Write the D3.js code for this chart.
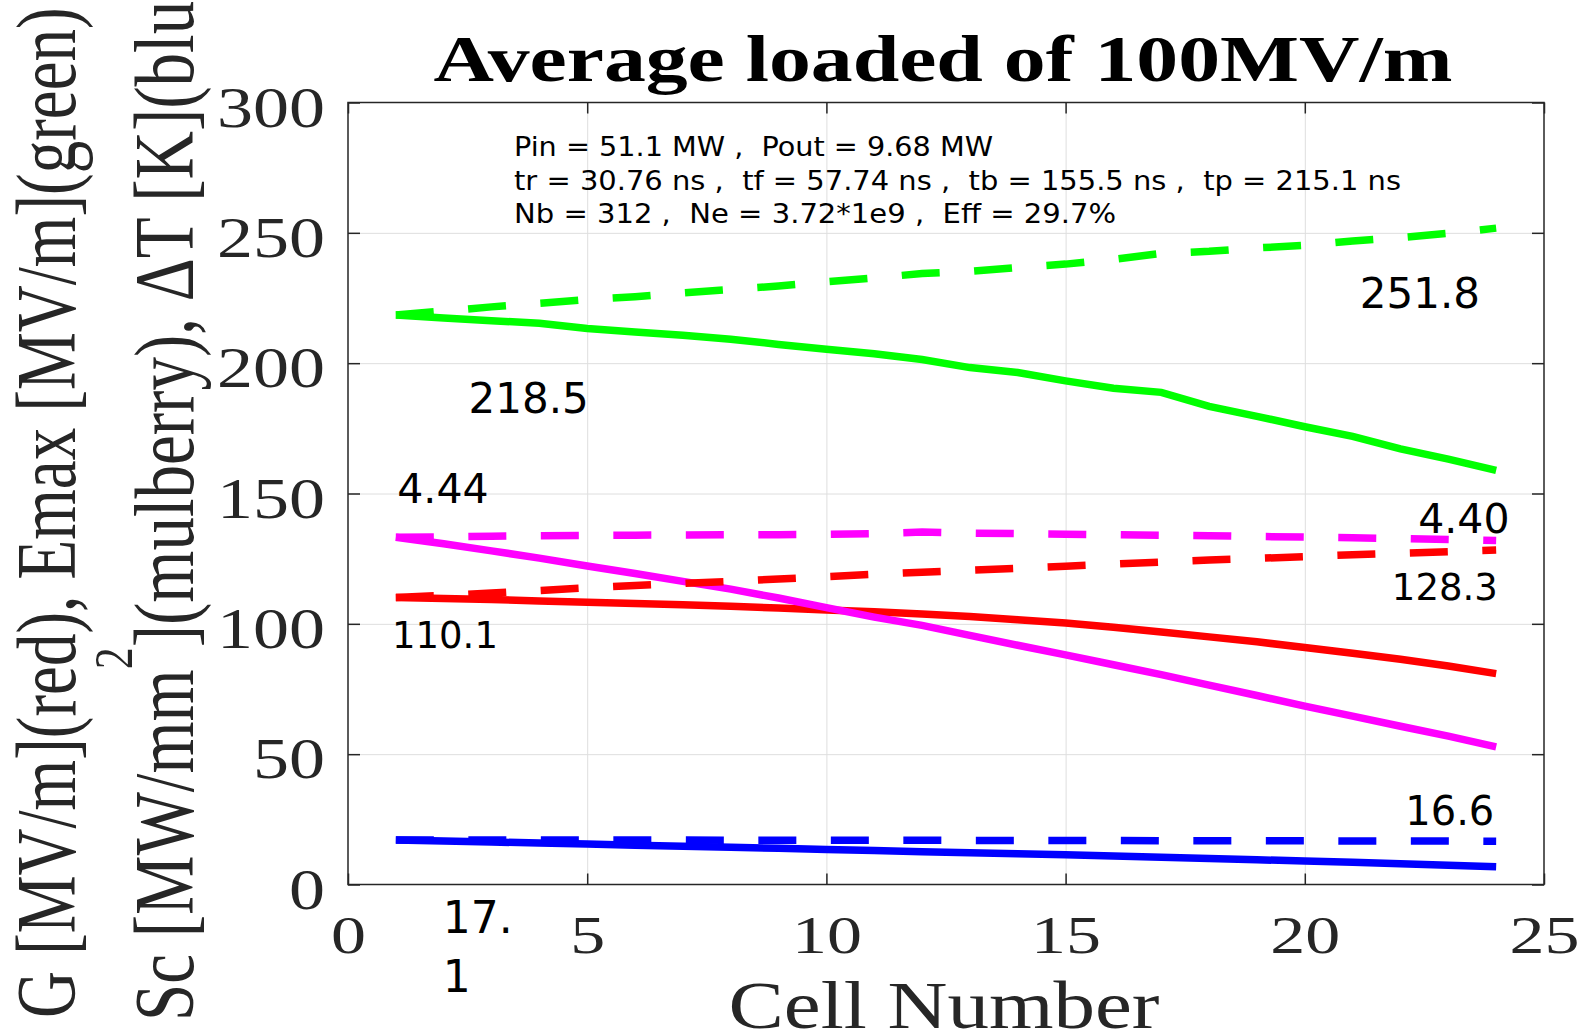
<!DOCTYPE html>
<html>
<head>
<meta charset="utf-8">
<script src="https://cdn.jsdelivr.net/npm/d3@7"></script>
<style>
  html, body { margin: 0; padding: 0; background: #fff; }
  svg { display: block; }
</style>
</head>
<body>
<svg id="chart" width="1581" height="1035"></svg>
<script>
// cell index along the structure
const cells = [1,2,3,4,5,6,7,8,9,10,11,12,13,14,15,16,17,18,19,20,21,22,23,24]

// G [MV/m] (red), solid = loaded, dashed = unloaded
const gSolid  = [110.1,109.7,109.3,108.8,108.3,107.8,107.3,106.7,106.1,105.3,104.6,103.8,102.8,101.6,100.3,98.7,96.9,95.0,93.1,90.9,88.7,86.4,83.8,80.9]
const gDashed = [110.1,110.9,111.8,112.8,113.8,114.7,115.5,116.3,117.2,118.1,119.0,119.8,120.6,121.3,122.1,122.9,123.7,124.5,125.1,125.8,126.5,127.1,127.7,128.3]
// Emax [MV/m] (green)
const emaxSolid  = [218.5,217.3,216.3,215.3,213.3,212.0,210.7,209.2,207.2,205.3,203.6,201.4,198.3,196.4,193.2,190.4,188.8,183.4,179.6,175.6,171.9,167.1,163.2,158.9]
const emaxDashed = [218.5,220.0,221.6,223.0,224.4,225.5,227.0,228.3,229.6,231.2,232.7,234.4,235.2,236.7,238.0,239.8,242.1,242.9,244.2,245.2,246.9,248.2,249.8,251.8]
// Sc [MW/mm^2] x30 (mulberry)
const scSolid  = [133.2,130.7,128.0,125.2,122.2,119.3,116.3,113.3,109.9,106.2,102.6,99.4,95.6,91.8,88.1,84.3,80.5,76.5,72.5,68.4,64.6,60.7,56.9,52.8]
const scDashed = [133.2,133.4,133.6,133.8,133.9,134.0,134.1,134.2,134.2,134.3,134.6,135.2,134.8,134.6,134.4,134.2,134.0,133.8,133.5,133.3,133.0,132.7,132.4,132.0]
// dT [K] (blue)
const dtSolid  = [17.1,16.7,16.3,15.9,15.5,15.1,14.7,14.3,13.9,13.4,13.0,12.6,12.2,11.8,11.4,10.9,10.5,10.0,9.5,9.0,8.5,8.0,7.4,6.8]
const dtDashed = [17.1,17.1,17.1,17.1,17.1,17.1,17.1,17.0,17.0,17.0,17.0,17.0,16.9,16.9,16.9,16.9,16.8,16.8,16.8,16.8,16.7,16.7,16.7,16.6]

const xTicks = [0,5,10,15,20,25]
const yTicks = [0,50,100,150,200,250,300]

const titleText = "Average loaded of 100MV/m"
const xLabel = "Cell Number"
const infoLines = [
  "Pin = 51.1 MW ,  Pout = 9.68 MW",
  "tr = 30.76 ns ,  tf = 57.74 ns ,  tb = 155.5 ns ,  tp = 215.1 ns",
  "Nb = 312 ,  Ne = 3.72*1e9 ,  Eff = 29.7%"
]

const svg = d3.select("#chart")
const pLeft = 348, pRight = 1544, pTop = 102.5, pBottom = 884.5
const ink = "#262626"
const serif = "'Liberation Serif','DejaVu Serif',serif"
const sans = "'DejaVu Sans',Verdana,sans-serif"

const x = d3.scaleLinear().domain([0, 25]).range([pLeft, pRight])
const y = d3.scaleLinear().domain([0, 300]).range([pBottom, pTop])

svg.append("rect").attr("width", 1581).attr("height", 1035).attr("fill", "#fff")

// grid
svg.append("g")
  .attr("transform", `translate(0,${pBottom})`)
  .call(d3.axisBottom(x).tickValues(xTicks.slice(1, -1)).tickSize(-(pBottom - pTop)).tickFormat(""))
  .call(g => g.select(".domain").remove())
  .selectAll("line").attr("stroke", "#dedede").attr("stroke-width", 1)
svg.append("g")
  .attr("transform", `translate(${pLeft},0)`)
  .call(d3.axisLeft(y).tickValues(yTicks.slice(1, -1)).tickSize(-(pRight - pLeft)).tickFormat(""))
  .call(g => g.select(".domain").remove())
  .selectAll("line").attr("stroke", "#dedede").attr("stroke-width", 1)

// series
const line = d3.line().x((d, i) => x(cells[i])).y(d => y(d))
const series = [
  { values: emaxSolid,  color: "#00ff00", dash: null },
  { values: emaxDashed, color: "#00ff00", dash: "38,34.5" },
  { values: gSolid,     color: "#ff0000", dash: null },
  { values: scSolid,    color: "#ff00ff", dash: null },
  { values: gDashed,    color: "#ff0000", dash: "38,34.5" },
  { values: scDashed,   color: "#ff00ff", dash: "38,34.5" },
  { values: dtSolid,    color: "#0000ff", dash: null },
  { values: dtDashed,   color: "#0000ff", dash: "38,34.5" }
]
svg.append("g").selectAll("path")
  .data(series)
  .enter().append("path")
    .attr("d", d => line(d.values))
    .attr("fill", "none")
    .attr("stroke", d => d.color)
    .attr("stroke-width", 7.5)
    .attr("stroke-dasharray", d => d.dash)

// box + inward ticks
svg.append("rect")
  .attr("x", pLeft).attr("y", pTop)
  .attr("width", pRight - pLeft).attr("height", pBottom - pTop)
  .attr("fill", "none").attr("stroke", ink).attr("stroke-width", 1.5)

const styleTicks = g => {
  g.select(".domain").remove()
  g.selectAll("line").attr("stroke", ink).attr("stroke-width", 1.5)
}
svg.append("g").attr("transform", `translate(0,${pTop})`)
  .call(d3.axisTop(x).tickValues(xTicks).tickSizeInner(-11).tickSizeOuter(0).tickFormat(""))
  .call(styleTicks)
svg.append("g").attr("transform", `translate(${pRight},0)`)
  .call(d3.axisRight(y).tickValues(yTicks).tickSizeInner(-12).tickSizeOuter(0).tickFormat(""))
  .call(styleTicks)

const xAxis = svg.append("g").attr("transform", `translate(0,${pBottom})`)
  .call(d3.axisBottom(x).tickValues(xTicks).tickSizeInner(-11).tickSizeOuter(0))
  .call(styleTicks)
xAxis.attr("font-family", serif).attr("font-size", 53)
xAxis.selectAll("text")
  .attr("fill", ink).attr("y", 68.5).attr("dy", 0)
  .attr("textLength", d => String(d).length * 35)
  .attr("lengthAdjust", "spacingAndGlyphs")

const yAxis = svg.append("g").attr("transform", `translate(${pLeft},0)`)
  .call(d3.axisLeft(y).tickValues(yTicks).tickSizeInner(-12).tickSizeOuter(0).tickPadding(23))
  .call(styleTicks)
yAxis.attr("font-family", serif).attr("font-size", 58)
yAxis.selectAll("text")
  .attr("fill", ink).attr("dy", 0).attr("y", 23.5)
  .attr("textLength", d => String(d).length * 36)
  .attr("lengthAdjust", "spacingAndGlyphs")

// title and x label
svg.append("text")
  .attr("x", 943).attr("y", 81)
  .attr("text-anchor", "middle")
  .attr("font-family", serif).attr("font-weight", "bold").attr("font-size", 66)
  .attr("textLength", 1019).attr("lengthAdjust", "spacingAndGlyphs")
  .attr("fill", "#000")
  .text(titleText)

svg.append("text")
  .attr("x", 944).attr("y", 1028)
  .attr("text-anchor", "middle")
  .attr("font-family", serif).attr("font-size", 68)
  .attr("textLength", 431).attr("lengthAdjust", "spacingAndGlyphs")
  .attr("fill", ink)
  .text(xLabel)

// y labels: rotated, widened like the stretched figure
svg.append("text")
  .attr("transform", "translate(75,1018) scale(1.3,1) rotate(-90)")
  .attr("font-family", serif).attr("font-size", 65).attr("fill", ink)
  .style("white-space", "pre")
  .text("G [MV/m](red), Emax [MV/m](green)")

const yl2 = svg.append("text")
  .attr("transform", "translate(193,1021) scale(1.27,1) rotate(-90)")
  .attr("font-family", serif).attr("font-size", 67).attr("fill", ink)
  .style("white-space", "pre")
yl2.append("tspan").text("Sc [MW/mm")
yl2.append("tspan").attr("font-size", 44).attr("dy", -48).text("2")
yl2.append("tspan").attr("dy", 48).text("](mulberry), ΔT [K](blue)")

// parameter block
svg.append("g").selectAll("text")
  .data(infoLines)
  .enter().append("text")
    .attr("x", 514)
    .attr("y", (d, i) => 156 + i * 33.6)
    .attr("font-family", sans).attr("font-size", 26).attr("fill", "#000")
    .style("white-space", "pre")
    .attr("textLength", (d, i) => [479, 887, 602][i])
    .attr("lengthAdjust", "spacingAndGlyphs")
    .text(d => d)

// end-value labels, anchored in data units
const labels = [
  { t: emaxSolid[0].toFixed(1),                         cx: 2.52,  cy: 180.7, fs: 42 },
  { t: emaxDashed[emaxDashed.length - 1].toFixed(1),    cx: 21.15, cy: 221.0, fs: 42 },
  { t: (scSolid[0] / 30).toFixed(2),                    cx: 1.03,  cy: 146.5, fs: 41 },
  { t: (scDashed[scDashed.length - 1] / 30).toFixed(2), cx: 22.37, cy: 134.7, fs: 41 },
  { t: gSolid[0].toFixed(1),                            cx: 0.92,  cy: 90.6,  fs: 37 },
  { t: gDashed[gDashed.length - 1].toFixed(1),          cx: 21.82, cy: 109.1, fs: 37 },
  { t: dtDashed[dtDashed.length - 1].toFixed(1),        cx: 22.1,  cy: 22.8,  fs: 40 },
  { t: "17.",                                           cx: 1.98,  cy: -18.6, fs: 44 },
  { t: "1",                                             cx: 1.98,  cy: -41.2, fs: 44 }
]
svg.append("g").selectAll("text")
  .data(labels)
  .enter().append("text")
    .attr("x", d => x(d.cx))
    .attr("y", d => y(d.cy))
    .attr("font-family", sans)
    .attr("font-size", d => d.fs)
    .attr("fill", "#000")
    .text(d => d.t)
</script>
</body>
</html>
